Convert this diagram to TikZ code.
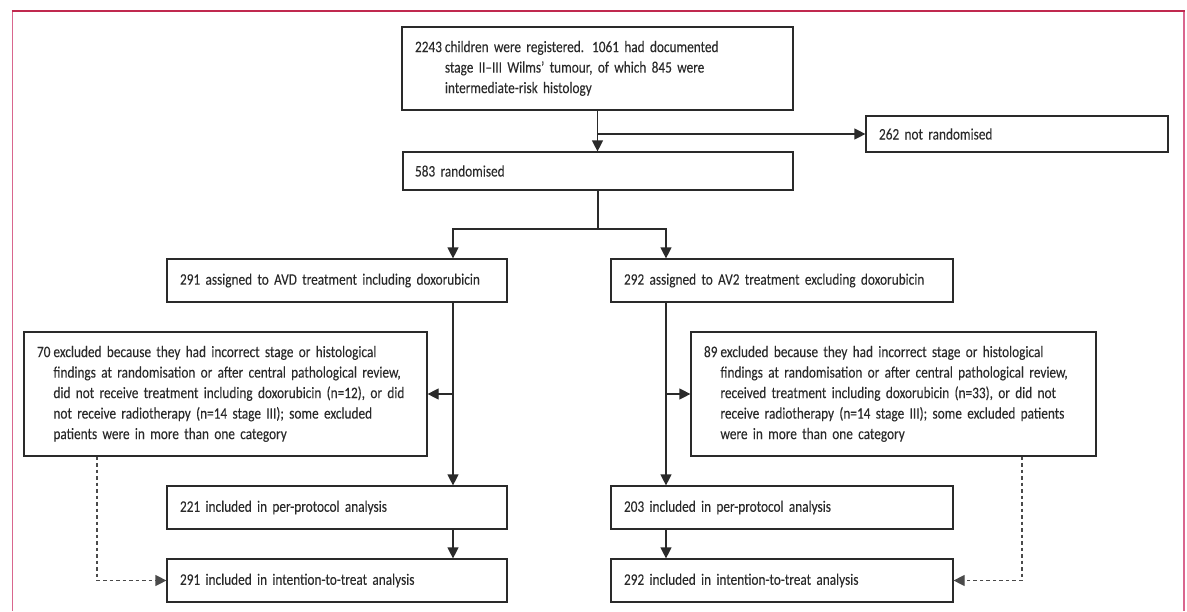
\documentclass[tikz,border=0pt]{standalone}
\usepackage{fontspec}
\setmainfont{Carlito}[FakeStretch=0.83, FakeBold=0.08]
\usetikzlibrary{arrows.meta}
\definecolor{ink}{HTML}{2A2A2A}
\definecolor{frametop}{HTML}{C0294F}
\definecolor{frameside}{HTML}{D9668E}
\hyphenpenalty=10000
\begin{document}
\begin{tikzpicture}[x=1pt,y=-1pt,
  box/.style={draw=ink, line width=1.2pt, rectangle, inner xsep=13pt, inner ysep=0pt,
    align=left, font=\fontsize{16}{20.5}\selectfont, text=ink},
  arr/.style={draw=ink, line width=1.2pt, -{Triangle[length=11pt,width=11pt]}},
  plain/.style={draw=ink, line width=1.2pt},
  dashedarr/.style={draw=ink!85, line width=1.2pt, dash pattern=on 3.5pt off 3pt, -{Triangle[length=11pt,width=11pt]}}]
\useasboundingbox (0,0) rectangle (1187,611);
% frame
\draw[frameside, line width=1.6pt] (12.5,11) -- (12.5,611);
\draw[frameside, line width=1.6pt] (1184,11) -- (1184,611);
\draw[frametop, line width=1.6pt] (11.7,11) -- (1184.8,11);
% nodes
\node[box, text width=365pt, minimum height=83pt] (top) at (597.5,68.5)
 {\begin{tabular}{@{}l@{\hspace{3pt}}l@{}}2243 & children were registered. 1061 had documented\\ & stage II--III Wilms’ tumour, of which 845 were\\ & intermediate-risk histology\end{tabular}};
\node[box, text width=276pt, minimum height=36pt] (r262) at (1017,134) {262 not randomised};
\node[box, text width=366pt, inner xsep=12pt, minimum height=38pt] (rand) at (598,171) {583 randomised};
\node[box, text width=314pt, minimum height=43pt] (avd) at (337,280.5) {291 assigned to AVD treatment including doxorubicin};
\node[box, text width=316pt, minimum height=43pt] (av2) at (782,280.5) {292 assigned to AV2 treatment excluding doxorubicin};
\node[box, text width=377pt, minimum height=124pt] (exl) at (225.5,394)
 {\begin{tabular}{@{}l@{\hspace{3pt}}l@{}}70 & excluded because they had incorrect stage or histological\\ & findings at randomisation or after central pathological review,\\ & did not receive treatment including doxorubicin (n=12), or did\\ & not receive radiotherapy (n=14 stage III); some excluded\\ & patients were in more than one category\end{tabular}};
\node[box, text width=379pt, minimum height=124pt] (exr) at (893.5,394)
 {\begin{tabular}{@{}l@{\hspace{3pt}}l@{}}89 & excluded because they had incorrect stage or histological\\ & findings at randomisation or after central pathological review,\\ & received treatment including doxorubicin (n=33), or did not\\ & receive radiotherapy (n=14 stage III); some excluded patients\\ & were in more than one category\end{tabular}};
\node[box, text width=314pt, minimum height=43pt] (pp1) at (337,507.5) {221 included in per-protocol analysis};
\node[box, text width=316pt, minimum height=43pt] (pp2) at (782,507.5) {203 included in per-protocol analysis};
\node[box, text width=314pt, minimum height=43pt] (itt1) at (337,580.5) {291 included in intention-to-treat analysis};
\node[box, text width=316pt, minimum height=43pt] (itt2) at (782,580.5) {292 included in intention-to-treat analysis};
% helper coordinates
\coordinate (cl) at (453,0);
\coordinate (cr) at (666,0);
\coordinate (split) at (598,229);
\coordinate (dl) at (97,0);
\coordinate (dr) at (1022,0);
% connectors
\draw[arr] (top.south) -- (top.south |- rand.north);
\draw[arr] (top.south |- r262.west) -- (r262.west);
\draw[plain] (rand.south) -- (split);
\draw[arr] (split) -| (cl |- avd.north);
\draw[arr] (split) -| (cr |- av2.north);
\draw[arr] (cl |- avd.south) -- (cl |- pp1.north);
\draw[arr] (cl |- exl.east) -- (exl.east);
\draw[arr] (cl |- pp1.south) -- (cl |- itt1.north);
\draw[arr] (cr |- av2.south) -- (cr |- pp2.north);
\draw[arr] (cr |- exr.west) -- (exr.west);
\draw[arr] (cr |- pp2.south) -- (cr |- itt2.north);
\draw[dashedarr] (dl |- exl.south) |- (itt1.west);
\draw[dashedarr] (dr |- exr.south) |- (itt2.east);
\end{tikzpicture}
\end{document}
